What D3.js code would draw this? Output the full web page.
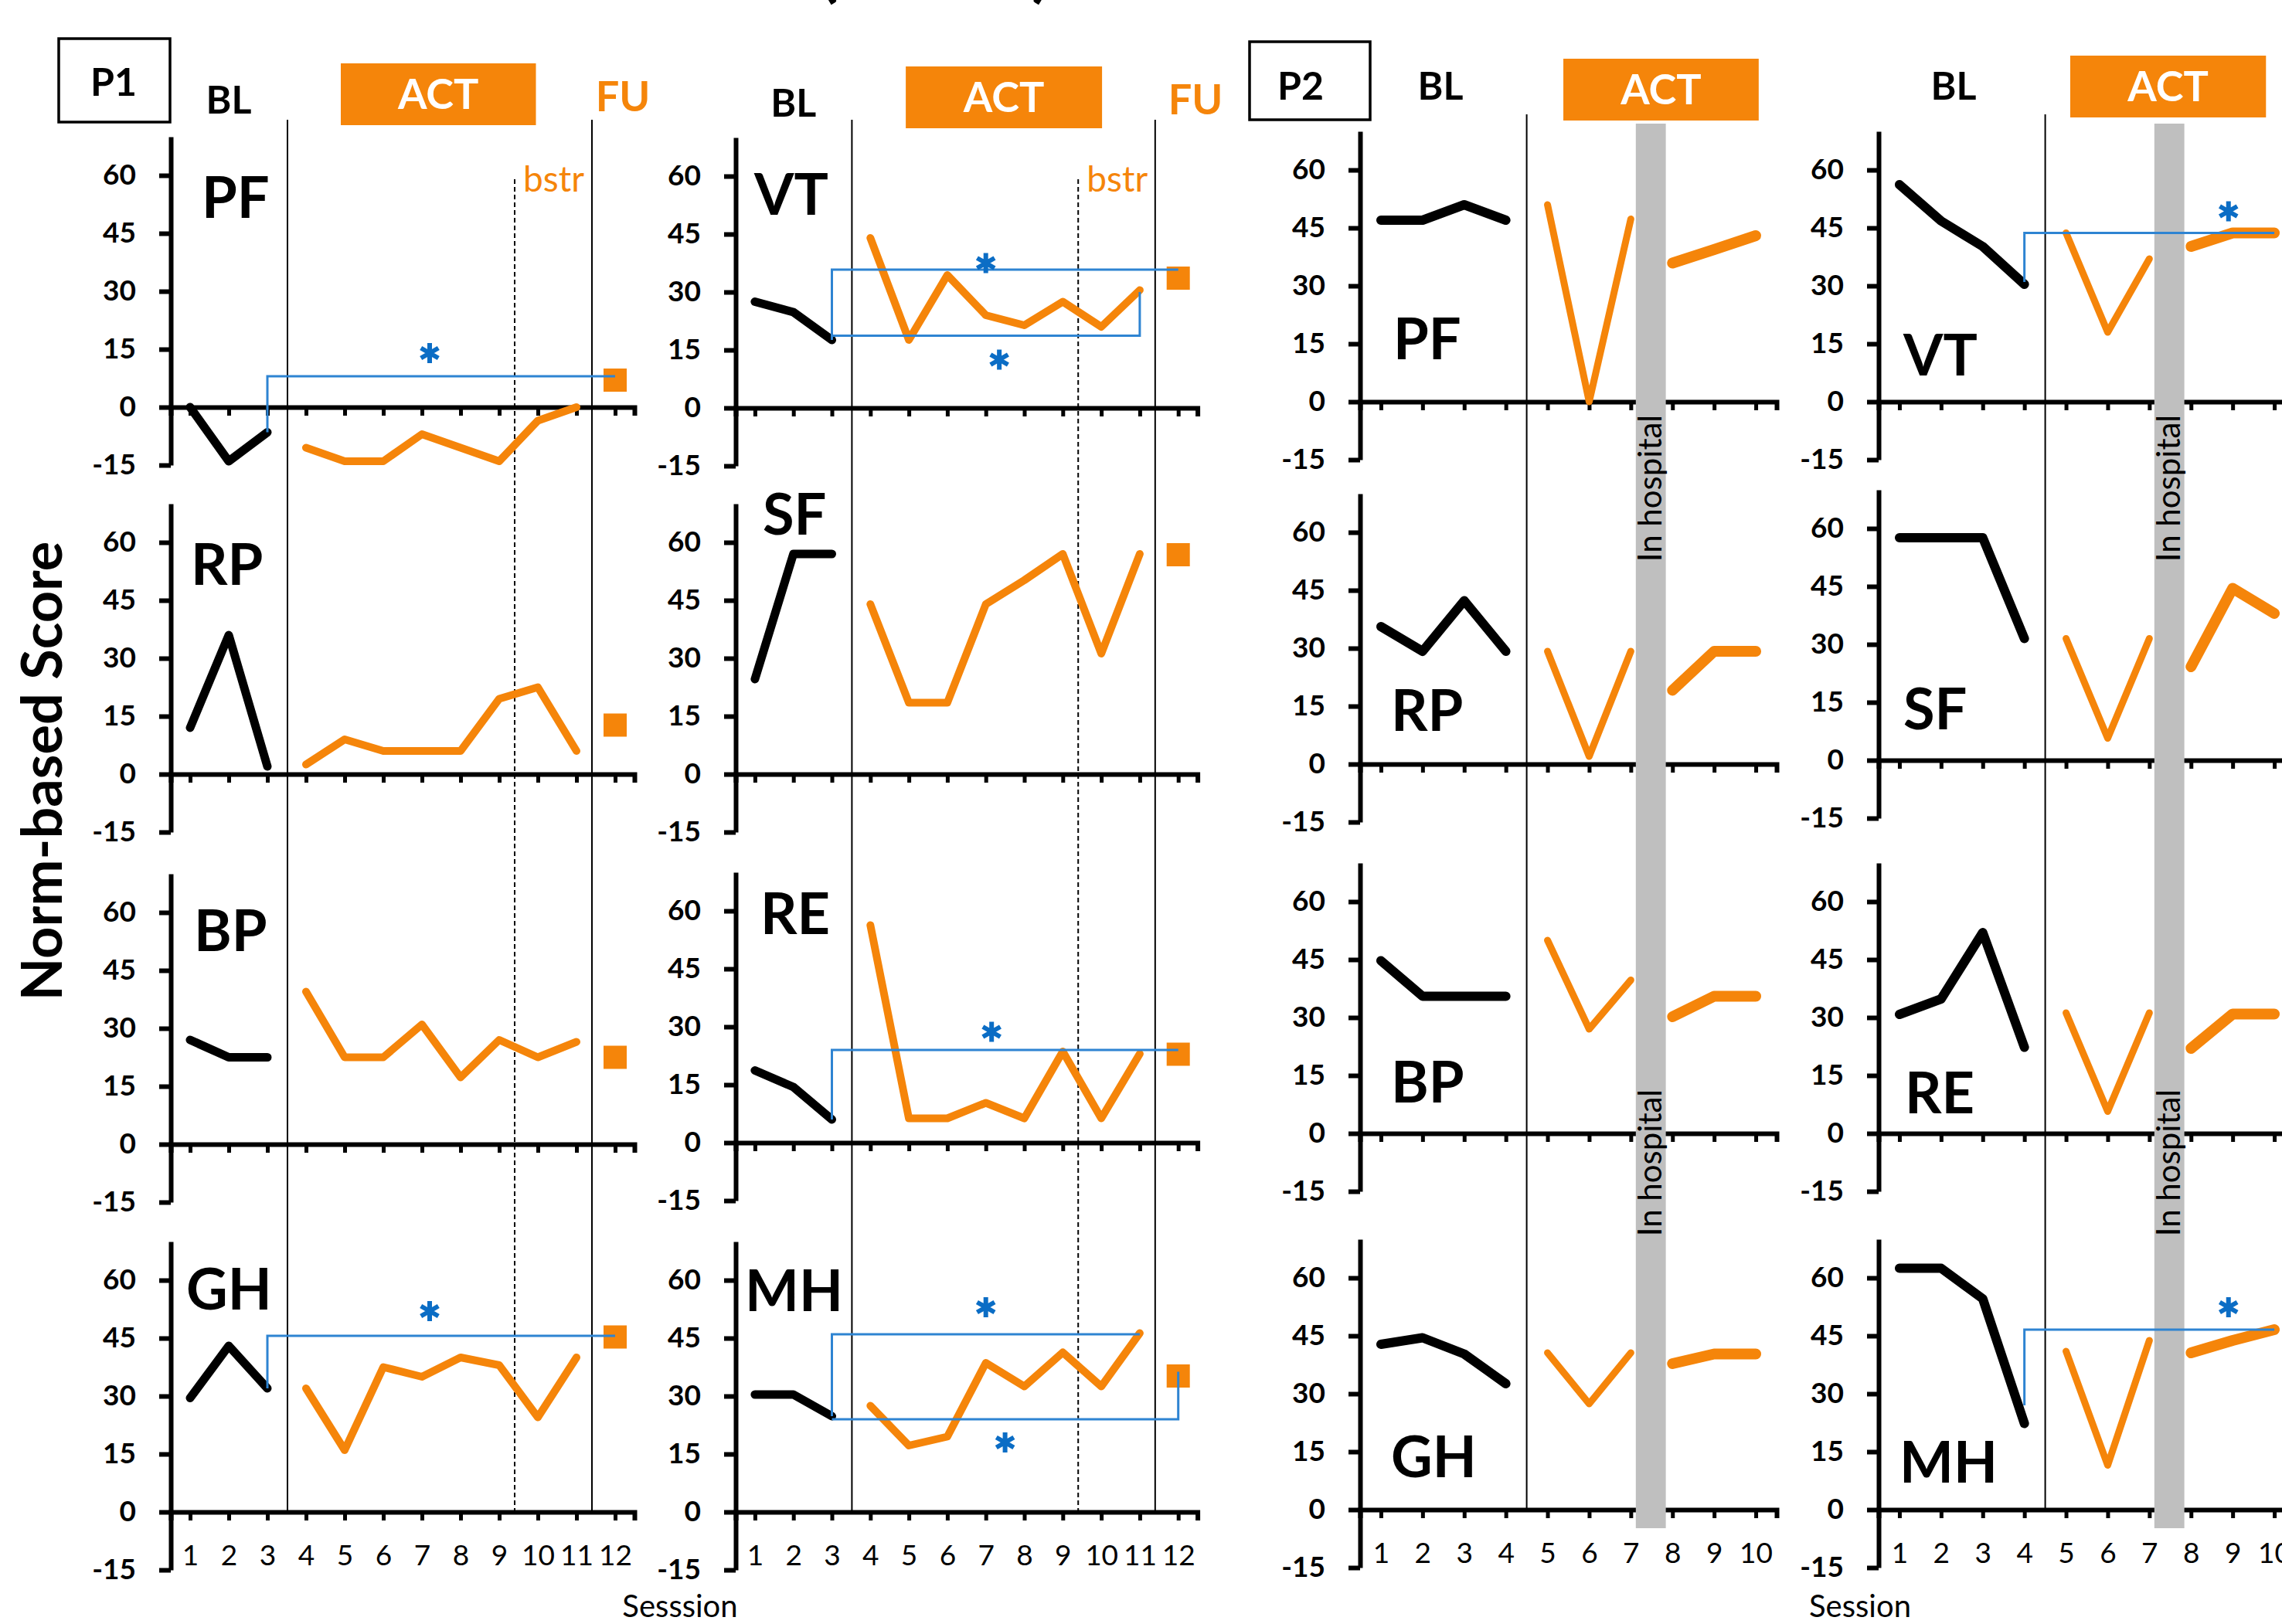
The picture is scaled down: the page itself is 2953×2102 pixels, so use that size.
<!DOCTYPE html>
<meta charset="utf-8">
<script src="https://d3js.org/d3.v7.min.js"></script>
<style>
  body { margin: 0; background: #fff; }
  svg text { font-family: Lato, "Open Sans", sans-serif; }
</style>
<div id="chart"></div>
<script>
  // ---------- data ----------
  var yTicks = [-15, 0, 15, 30, 45, 60];
  var p1Sessions = d3.range(1, 13);   // 1-3 BL, 4-11 ACT, 12 FU
  var p2Sessions = d3.range(1, 11);   // 1-4 BL, 5-10 ACT

  // P1, panels in order: left column top->bottom, then right column
  var p1Scales = ["PF", "RP", "BP", "GH", "VT", "SF", "RE", "MH"];
  var p1Baseline = [
    [0, -14, -6.5],
    [12, 36, 2],
    [27, 22.5, 22.5],
    [29.5, 43, 32],
    [27.5, 24.8, 17.6],
    [24.6, 57, 57],
    [18.7, 14.4, 6],
    [30.4, 30.4, 24.8]
  ];
  var p1Act = [
    [-10.5, -14, -14, -7, -10.5, -14, -3.5, 0],
    [2.5, 9, 6, 6, 6, 19.5, 22.5, 6],
    [39.5, 22.5, 22.5, 31, 17.3, 27, 22.5, 26.5],
    [32, 16, 37.5, 35, 40, 38, 24.5, 40],
    [44, 17.6, 34.4, 24, 21.4, 27.5, 21, 30.5],
    [44, 18.5, 18.5, 44, 50.2, 57, 31.2, 57],
    [56.3, 6.3, 6.3, 10.3, 6.3, 23.6, 6.3, 23],
    [27.5, 17.2, 19.5, 38.6, 32.5, 41.3, 32.5, 46.3]
  ];
  var p1FollowUp = [7, 12.7, 22.5, 45.3, 33.6, 56.8, 22.9, 35.2];

  // P2
  var p2Scales = ["PF", "RP", "BP", "GH", "VT", "SF", "RE", "MH"];
  var p2Baseline = [
    [47, 47, 51, 47],
    [35.6, 29.2, 42.3, 29.2],
    [44.7, 35.5, 35.5, 35.5],
    [42.8, 44.5, 40.3, 32.6],
    [56.2, 46.8, 40.2, 30.4],
    [57.6, 57.6, 57.6, 31.5],
    [30.8, 34.8, 52, 22.3],
    [62.5, 62.5, 54.6, 22.3]
  ];
  var p2ActBefore = [   // sessions 5-7
    [51, 0, 47.3],
    [29.2, 2, 29.2],
    [50, 27, 39.7],
    [40.6, 27.4, 40.6],
    [43.7, 18, 37],
    [31.5, 5.7, 31.5],
    [31.2, 5.7, 31.2],
    [41, 11.5, 43.8]
  ];
  var p2ActAfter = [    // sessions 8-10 (after hospital stay)
    [35.9, 39.4, 43],
    [19.1, 29.2, 29.2],
    [30.2, 35.5, 35.5],
    [37.8, 40.3, 40.3],
    [40.2, 43.7, 43.7],
    [24.2, 44.5, 38],
    [22, 30.9, 30.9],
    [40.6, 43.8, 46.6]
  ];

  // significance brackets [session, score]
  var p1Brackets = [
    {scale: "PF", path: [[3, -6.5], [3, 8], [12, 8]], star: [7.2, 14]},
    {scale: "VT", path: [[3, 17.6], [3, 35.8], [12, 35.8]], star: [7, 37.5]},
    {scale: "VT", path: [[3, 18.7], [11, 18.7], [11, 30]], star: [7.35, 12.5]},
    {scale: "RE", path: [[3, 6], [3, 24], [12, 24]], star: [7.15, 28.7]},
    {scale: "GH", path: [[3, 32], [3, 45.6], [12, 45.6]], star: [7.2, 52]},
    {scale: "MH", path: [[3, 24.8], [3, 46], [11, 46]], star: [7, 53]},
    {scale: "MH", path: [[3, 24], [12, 24], [12, 36.3]], star: [7.5, 18]}
  ];
  var p2Brackets = [
    {scale: "VT", path: [[4, 31], [4, 43.7], [10, 43.7]], star: [8.9, 49.3]},
    {scale: "MH", path: [[4, 27], [4, 46.6], [10, 46.6]], star: [8.9, 52.4]}
  ];

  // ---------- layout ----------
  var width = 2953, height = 2102, PX = 5;
  var ORANGE = "#F5850A", BLUE = "#2E84D2", STAR = "#0B6DC5";
  var p1AxisX = [221, 952], p1Step = [50, 49.8];
  var p1Zero = [[527, 1002, 1481, 1957], [528, 1002, 1479, 1957]];
  var p2AxisX = [1760, 2431], p2Step = 53.9;
  var p2Zero = [[520, 989, 1467, 1954], [520, 984, 1467, 1954]];
  // panel label: [dx from axis, baseline score]
  var p1LabelPos = [[40, 49], [26, 49], [30, 50], [20, 52.5], [24, 50], [35, 62], [32, 54], [12, 52]];
  var p2LabelPos = [[43, 11], [40, 8.6], [40, 8], [40, 8.4], [32, 6.8], [32, 8], [34, 5.2], [27, 7]];

  var svg = d3.select("#chart").append("svg")
    .attr("width", width).attr("height", height)
    .style("display", "block");

  var layerAxes = svg.append("g"),
      layerSep = svg.append("g"),
      layerLines = svg.append("g"),
      layerBand = svg.append("g"),
      layerTop = svg.append("g");

  function makePanel(x0, step, n, zero, showX) {
    var x = d3.scaleLinear().domain([0.5, n + 0.5]).range([x0, x0 + n * step]);
    var y = d3.scaleLinear().domain([-15, 70]).range([zero + 15 * PX, zero - 70 * PX]);

    var ya = layerAxes.append("g")
      .attr("transform", "translate(" + x0 + ",0)")
      .call(d3.axisLeft(y).tickValues(yTicks).tickSize(15).tickSizeOuter(0).tickPadding(30)
        .tickFormat(function (d) { return String(d); }));
    ya.select(".domain").attr("stroke-width", 6);
    ya.selectAll(".tick line").attr("stroke-width", 6);
    ya.selectAll("text").style("font-size", "37px").style("font-weight", 700).attr("fill", "#000");

    var xa = layerAxes.append("g")
      .attr("transform", "translate(0," + y(0) + ")")
      .call(d3.axisBottom(x).tickValues(d3.range(1, n + 1)).tickSize(11).tickSizeOuter(11)
        .tickPadding(32).tickFormat(showX ? d3.format("d") : function () { return ""; }));
    xa.select(".domain").attr("stroke-width", 6);
    xa.selectAll(".tick line").attr("stroke-width", 5);
    xa.selectAll("text").style("font-size", "37px").attr("fill", "#000");

    return {x: x, y: y};
  }

  function drawLine(p, pts, color, w) {
    layerLines.append("path")
      .datum(pts)
      .attr("fill", "none")
      .attr("stroke", color)
      .attr("stroke-width", w)
      .attr("stroke-linecap", "round")
      .attr("stroke-linejoin", "round")
      .attr("d", d3.line().x(function (d) { return p.x(d[0]); }).y(function (d) { return p.y(d[1]); }));
  }

  function panelLabel(p, x0, name, pos) {
    layerTop.append("text")
      .attr("x", x0 + pos[0]).attr("y", p.y(pos[1]))
      .style("font-size", "74px").style("font-weight", 700)
      .text(name);
  }

  function drawBracket(p, b) {
    layerTop.append("path")
      .datum(b.path)
      .attr("fill", "none").attr("stroke", BLUE).attr("stroke-width", 3)
      .attr("d", d3.line().x(function (d) { return p.x(d[0]); }).y(function (d) { return p.y(d[1]); }));
    layerTop.append("path")
      .attr("transform", "translate(" + p.x(b.star[0]) + "," + p.y(b.star[1]) + ")")
      .attr("d", d3.symbol(d3.symbolAsterisk, 480)())
      .attr("fill", "none").attr("stroke", STAR).attr("stroke-width", 6);
  }

  // ---------- P1 ----------
  var p1Panels = {};
  p1Scales.forEach(function (name, i) {
    var col = Math.floor(i / 4), row = i % 4;
    var p = makePanel(p1AxisX[col], p1Step[col], 12, p1Zero[col][row], row === 3);
    p1Panels[name] = p;
    drawLine(p, p1Baseline[i].map(function (v, k) { return [k + 1, v]; }), "#000", 11);
    drawLine(p, p1Act[i].map(function (v, k) { return [k + 4, v]; }), ORANGE, 10);
    layerLines.append("rect")
      .attr("x", p.x(12) - 15).attr("y", p.y(p1FollowUp[i]) - 15)
      .attr("width", 30).attr("height", 30).attr("fill", ORANGE);
    panelLabel(p, p1AxisX[col], name, p1LabelPos[i]);
  });

  [0, 1].forEach(function (col) {
    var x = p1Panels[p1Scales[col * 4]].x;
    var bottom = p1Zero[col][3];
    [3.52, 11.4].forEach(function (s) {
      layerSep.append("line").attr("x1", x(s)).attr("x2", x(s)).attr("y1", 155).attr("y2", bottom)
        .attr("stroke", "#000").attr("stroke-width", 2);
    });
    layerSep.append("line").attr("x1", x(9.4)).attr("x2", x(9.4)).attr("y1", 232).attr("y2", bottom)
      .attr("stroke", "#000").attr("stroke-width", 2).attr("stroke-dasharray", "6,4");
    layerTop.append("text").attr("x", x(9.4) + 11).attr("y", 248)
      .attr("fill", ORANGE).style("font-size", "46px").text("bstr");

    // phase headers
    var by = col === 0 ? 147 : 151, ry = col === 0 ? 82 : 86;
    layerTop.append("text").attr("x", x(2)).attr("y", by).attr("text-anchor", "middle")
      .style("font-size", "50px").style("font-weight", 700).text("BL");
    var a0 = col === 0 ? 4.9 : 4.92, a1 = col === 0 ? 9.95 : 10.02;
    layerTop.append("rect").attr("x", x(a0)).attr("y", ry).attr("width", x(a1) - x(a0)).attr("height", 80)
      .attr("fill", ORANGE);
    layerTop.append("text").attr("x", (x(a0) + x(a1)) / 2).attr("y", ry + 59).attr("text-anchor", "middle")
      .attr("fill", "#fff").style("font-size", "54px").style("font-weight", 700).text("ACT");
    layerTop.append("text").attr("x", x(col === 0 ? 12.2 : 12.45)).attr("y", by - 3).attr("text-anchor", "middle")
      .attr("fill", ORANGE).style("font-size", "54px").style("font-weight", 700).text("FU");
  });

  p1Brackets.forEach(function (b) { drawBracket(p1Panels[b.scale], b); });

  layerTop.append("rect").attr("x", 76).attr("y", 50).attr("width", 144).attr("height", 108)
    .attr("fill", "none").attr("stroke", "#000").attr("stroke-width", 3.5);
  layerTop.append("text").attr("x", 147).attr("y", 124).attr("text-anchor", "middle")
    .style("font-size", "50px").style("font-weight", 700).text("P1");

  // ---------- P2 ----------
  var p2Panels = {};
  p2Scales.forEach(function (name, i) {
    var col = Math.floor(i / 4), row = i % 4;
    var p = makePanel(p2AxisX[col], p2Step, 10, p2Zero[col][row], row === 3);
    p2Panels[name] = p;
    drawLine(p, p2Baseline[i].map(function (v, k) { return [k + 1, v]; }), "#000", 12);
    drawLine(p, p2ActBefore[i].map(function (v, k) { return [k + 5, v]; }), ORANGE, 9);
    drawLine(p, p2ActAfter[i].map(function (v, k) { return [k + 8, v]; }), ORANGE, 14);
    panelLabel(p, p2AxisX[col], name, p2LabelPos[i]);
  });

  [0, 1].forEach(function (col) {
    var x = p2Panels[p2Scales[col * 4]].x;
    var bottom = p2Zero[col][3];
    layerSep.append("line").attr("x1", x(4.5)).attr("x2", x(4.5)).attr("y1", 148).attr("y2", bottom)
      .attr("stroke", "#000").attr("stroke-width", 2);
    // hospital stay band
    layerBand.append("rect").attr("x", x(7.12)).attr("y", 160)
      .attr("width", x(7.84) - x(7.12)).attr("height", 1978 - 160).attr("fill", "#BFBFBF");
    [632, 1505].forEach(function (cy) {
      layerBand.append("text")
        .attr("transform", "translate(" + ((x(7.12) + x(7.84)) / 2 + 14) + "," + cy + ") rotate(-90)")
        .attr("text-anchor", "middle").style("font-size", "42px").text("In hospital");
    });

    var ry = col === 0 ? 76 : 72;
    layerTop.append("text").attr("x", x(col === 0 ? 2.43 : 2.3)).attr("y", 129).attr("text-anchor", "middle")
      .style("font-size", "50px").style("font-weight", 700).text("BL");
    var a0 = col === 0 ? 5.38 : 5.1, a1 = col === 0 ? 10.07 : 9.8;
    layerTop.append("rect").attr("x", x(a0)).attr("y", ry).attr("width", x(a1) - x(a0)).attr("height", 80)
      .attr("fill", ORANGE);
    layerTop.append("text").attr("x", (x(a0) + x(a1)) / 2).attr("y", ry + 59).attr("text-anchor", "middle")
      .attr("fill", "#fff").style("font-size", "54px").style("font-weight", 700).text("ACT");
  });

  p2Brackets.forEach(function (b) { drawBracket(p2Panels[b.scale], b); });

  layerTop.append("rect").attr("x", 1617).attr("y", 54).attr("width", 156).attr("height", 101)
    .attr("fill", "none").attr("stroke", "#000").attr("stroke-width", 3.5);
  layerTop.append("text").attr("x", 1683).attr("y", 129).attr("text-anchor", "middle")
    .style("font-size", "50px").style("font-weight", 700).text("P2");

  // ---------- titles ----------
  layerTop.append("text")
    .attr("transform", "translate(80,998) rotate(-90)")
    .attr("text-anchor", "middle")
    .style("font-size", "72px").style("font-weight", 700)
    .text("Norm-based Score");
  layerTop.append("text").attr("x", 880).attr("y", 2093).attr("text-anchor", "middle")
    .style("font-size", "40px").text("Sesssion");
  layerTop.append("text").attr("x", 2407).attr("y", 2093).attr("text-anchor", "middle")
    .style("font-size", "40px").text("Session");
  // title above, mostly outside the picture
  layerTop.append("text").attr("x", 1060).attr("y", -8).style("font-size", "90px").style("font-weight", 700).text("(");
  layerTop.append("text").attr("x", 1335).attr("y", -8).style("font-size", "90px").style("font-weight", 700).text(")");
</script>
